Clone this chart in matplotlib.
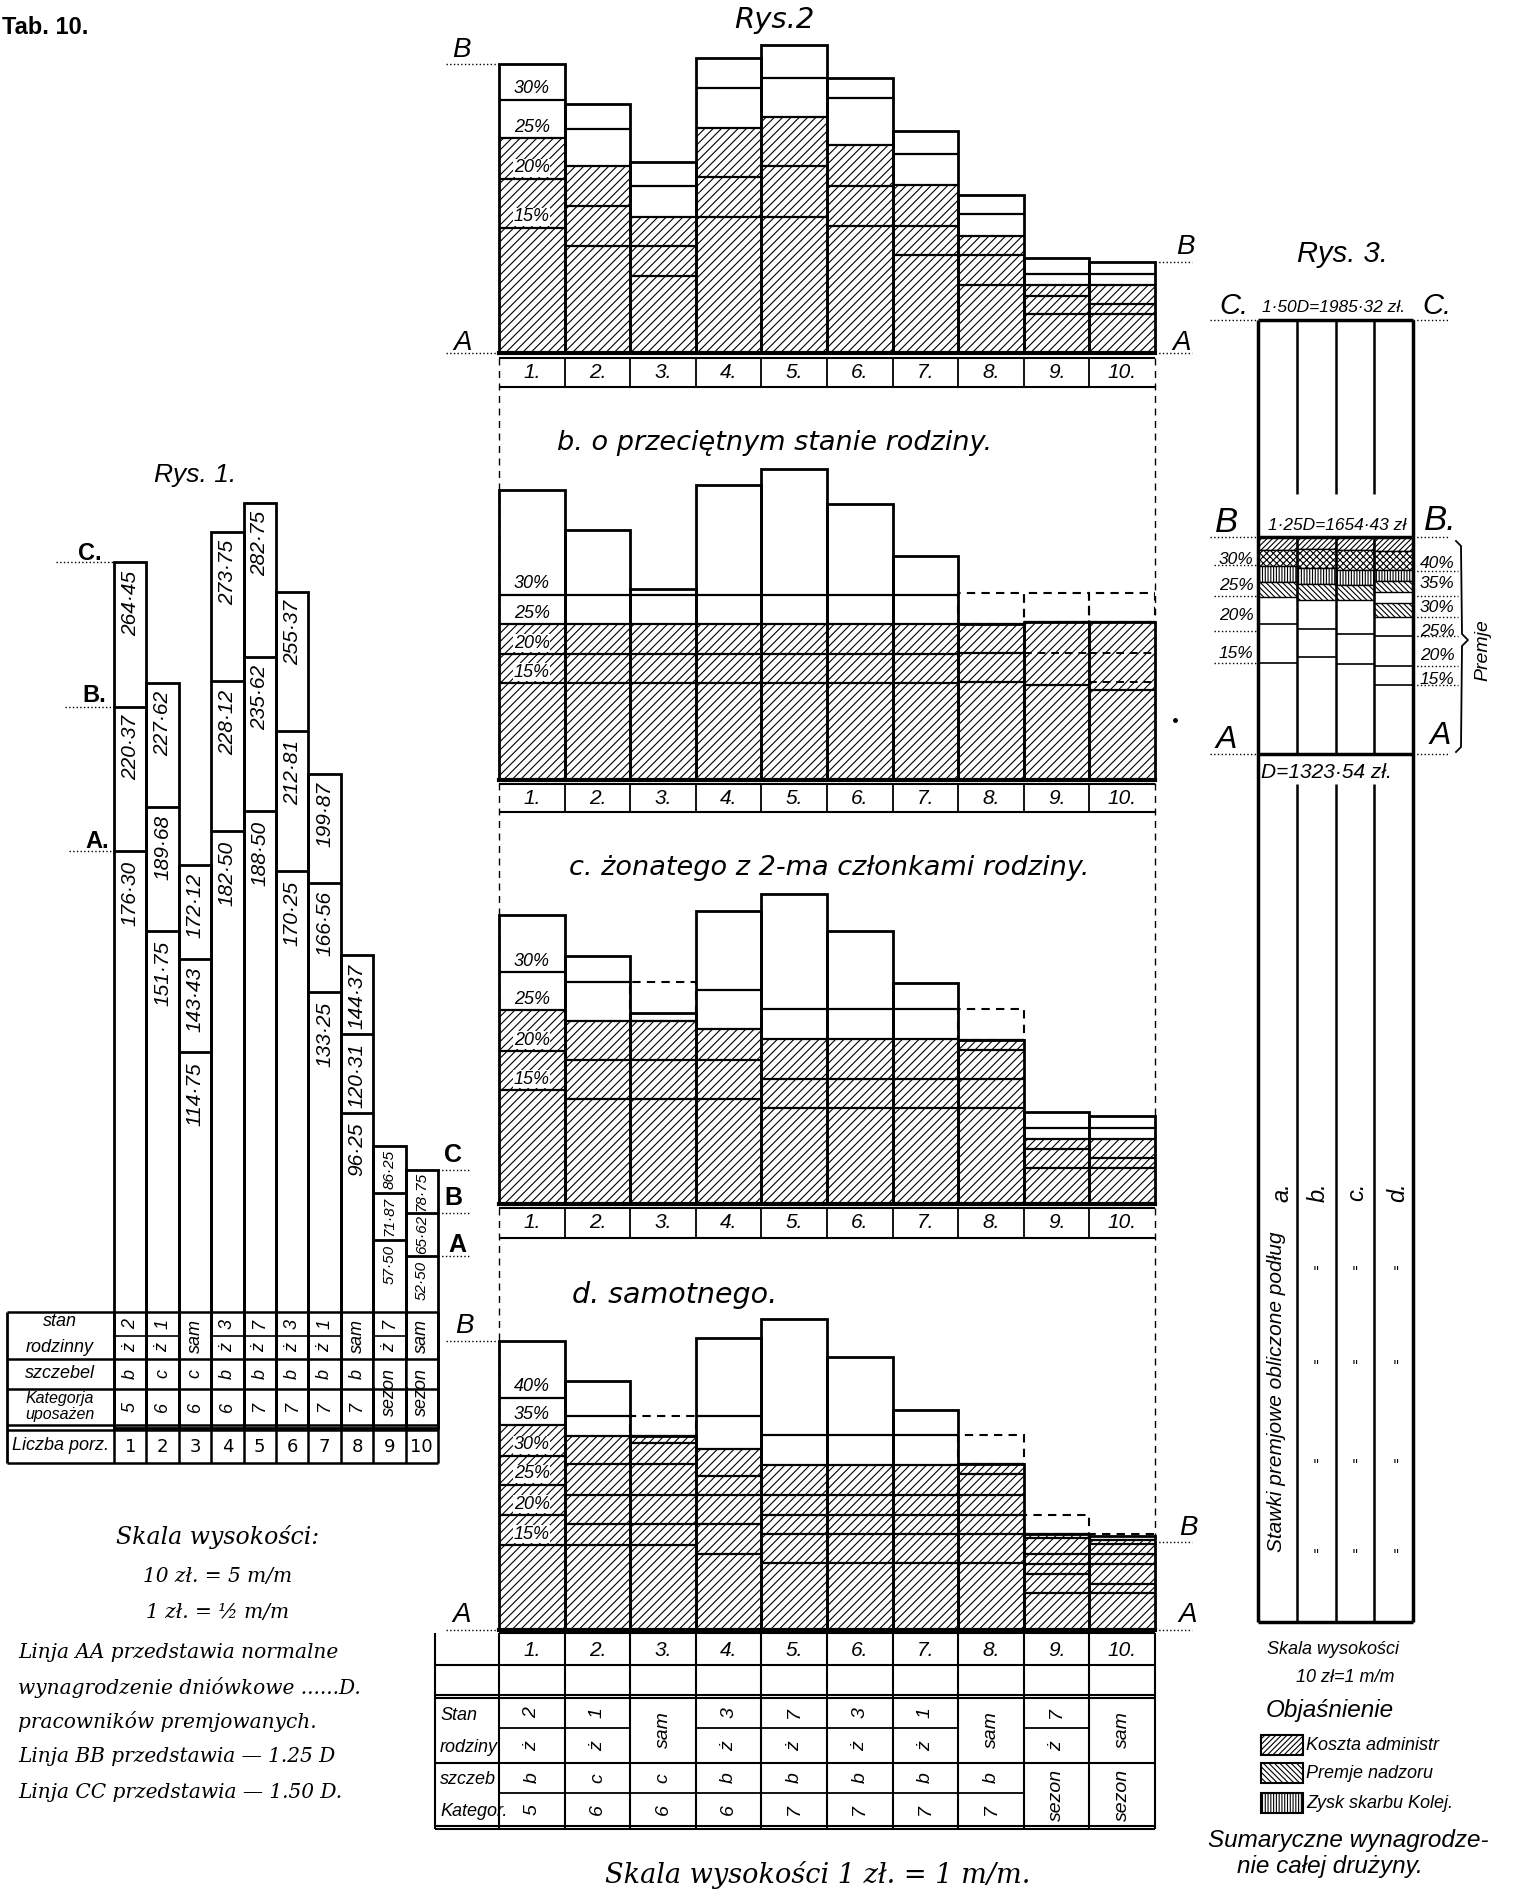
import numpy as np
import matplotlib
matplotlib.use("Agg")
import matplotlib.pyplot as plt
from matplotlib.patches import Rectangle

W, H = 1518, 1891
plt.rcParams["hatch.linewidth"] = 0.8
fig = plt.figure(figsize=(W / 100, H / 100), dpi=100)

HAND = dict(family=["Liberation Sans", "DejaVu Sans"], style="italic")
WIDE = dict(family=["DejaVu Sans"], style="italic")
SERIF = dict(family=["DejaVu Serif"], style="italic")
BOLD = dict(family=["Liberation Sans Narrow", "Liberation Sans", "DejaVu Sans"], weight="bold")

# ---------------- data ----------------
# Rys. 1: daily wage (zl) of each worker at line A (= D), B (1.25 D) and C (1.50 D)
numbers = ["1", "2", "3", "4", "5", "6", "7", "8", "9", "10"]
wage_A = [176.30, 151.75, 114.75, 182.50, 188.50, 170.25, 133.25, 96.25, 57.50, 52.50]
wage_B = [220.37, 189.68, 143.43, 228.12, 235.62, 212.81, 166.56, 120.31, 71.87, 65.62]
wage_C = [264.45, 227.62, 172.12, 273.75, 282.75, 255.37, 199.87, 144.37, 86.25, 78.75]
lbl_A = ["176·30", "151·75", "114·75", "182·50", "188·50", "170·25", "133·25", "96·25", "57·50", "52·50"]
lbl_B = ["220·37", "189·68", "143·43", "228·12", "235·62", "212·81", "166·56", "120·31", "71·87", "65·62"]
lbl_C = ["264·45", "227·62", "172·12", "273·75", "282·75", "255·37", "199·87", "144·37", "86·25", "78·75"]
stan_top = ["2", "1", "sam", "3", "7", "3", "1", "sam", "7", "sam"]
stan_bot = ["ż", "ż", "", "ż", "ż", "ż", "ż", "", "ż", ""]
szczebel = ["b", "c", "c", "b", "b", "b", "b", "b", "sezon", "sezon"]
kategoria = ["5", "6", "6", "6", "7", "7", "7", "7", "", ""]

# Rys. 2: premium above line A (zl)
tops_a = [43.8, 37.7, 28.9, 44.7, 46.7, 41.6, 33.7, 23.9, 14.4, 13.8]
hatch_a = [32.6, 28.3, 20.6, 34.1, 35.7, 31.5, 25.4, 17.8, 10.3, 10.3]
lines_a = [[38.4, 26.4, 19.0], [34.0, 22.2, 16.2], [25.3, 16.2, 11.7], [40.2, 26.7, 20.6],
           [41.7, 28.3, 20.6], [38.7, 25.3, 19.2], [30.1, 19.2, 14.9], [21.0, 14.9, 10.3],
           [11.9, 8.7, 5.9], [12.0, 7.5, 5.9]]
dash_a = [None] * 10
dline_a = [[]] * 10
pct_a = ["30%", "25%", "20%", "15%"]

tops_b = [43.9, 37.9, 29.0, 44.7, 47.1, 41.8, 34.0, 23.7, 24.0, 24.0]
hatch_b = [23.6, 23.6, 23.6, 23.6, 23.6, 23.6, 23.6, 23.7, 24.0, 24.0]
lines_b = [[28.1, 19.1, 14.7]] * 7 + [[19.2, 14.9], [14.4], [13.7]]
dash_b = [None] * 7 + [28.3, 28.3, 28.3]
dline_b = [[]] * 8 + [[19.2], [19.2, 14.9]]
pct_b = ["30%", "25%", "20%", "15%"]

tops_c = [43.8, 37.6, 28.9, 44.4, 47.0, 41.4, 33.5, 24.9, 14.0, 13.4]
hatch_c = [29.4, 27.7, 27.7, 26.5, 25.0, 25.0, 25.0, 24.9, 9.9, 9.9]
lines_c = [[35.1, 23.2, 17.3], [33.7, 21.8, 15.9], [21.8, 15.9], [32.4, 21.8, 15.9],
           [29.5, 18.9, 14.5], [29.5, 18.9, 14.5], [29.5, 18.9, 14.5], [23.3, 19.0, 14.6],
           [11.5, 8.4, 5.4], [11.5, 7.0, 5.4]]
dash_c = [None, None, 33.7, None, None, None, None, 29.5, None, None]
dline_c = [[]] * 10
pct_c = ["30%", "25%", "20%", "15%"]

tops_d = [43.8, 37.7, 29.4, 44.3, 47.1, 41.3, 33.4, 25.1, 14.6, 14.2]
hatch_d = [31.0, 29.4, 29.4, 27.4, 25.0, 25.0, 25.0, 25.1, 14.6, 13.6]
lines_d = [[35.2, 26.4, 22.0, 17.4, 12.9], [32.4, 25.1, 20.4, 16.1, 12.9],
           [28.4, 25.1, 20.4, 16.1, 12.9], [32.4, 23.4, 20.4, 16.1, 11.5],
           [29.5, 20.5, 17.5, 14.6, 10.1], [29.5, 20.5, 17.5, 14.6, 10.1],
           [29.5, 20.5, 17.5, 14.6, 10.1], [23.6, 20.5, 17.5, 14.6, 10.1],
           [13.9, 11.5, 10.0, 8.5, 5.6], [13.0, 11.5, 10.0, 7.0, 5.6]]
dash_d = [None, None, 32.4, None, None, None, None, 29.5, 17.4, 14.6]
dline_d = [[]] * 10
pct_d = ["40%", "35%", "30%", "25%", "20%", "15%"]

# Rys. 3: whole team (zl)
r3_D, r3_B, r3_C = 1323.54, 1654.43, 1985.32
r3_cols = ["a.", "b.", "c.", "d."]
r3_bands = [[1654.4, 1634, 1610, 1586, 1563],
            [1654.4, 1636, 1607, 1583, 1558],
            [1654.4, 1634, 1604, 1581, 1558],
            [1654.4, 1633, 1604, 1587, 1571]]
r3_hatch = ["//////", "xxxxx", "||||||", "\\\\\\\\\\\\"]
r3_extra = [None, None, None, (1532, 1554)]
r3_lines = [[1522, 1462], [1514, 1471], [1507, 1461], [1503, 1458, 1429]]


def px_axes(x0, y0, x1, y1, z=1):
    ax = fig.add_axes([x0 / W, 1 - y1 / H, (x1 - x0) / W, (y1 - y0) / H], zorder=z)
    ax.set_axis_off()
    return ax


back = px_axes(0, 0, W, H, z=0)
back.set_xlim(0, W)
back.set_ylim(H, 0)
ov = px_axes(0, 0, W, H, z=10)
ov.set_xlim(0, W)
ov.set_ylim(H, 0)

ov.text(2, 27, "Tab. 10.", fontsize=17, ha="left", va="center", **BOLD)

# ---------------- Rys. 1 ----------------
S1, Z1 = 3.273, 1428        # px per zl, pixel row of 0 zl
X0, BW = 114, 32.4
ax1 = px_axes(X0, Z1 - 300 * S1, X0 + 10 * BW, 1312)
ax1.set_xlim(-0.5, 9.5)
ax1.set_ylim((Z1 - 1312) / S1, 300)
x = np.arange(10)
ax1.bar(x, wage_C, width=1, fill=False, edgecolor="k", lw=2, clip_on=False)
ax1.hlines(wage_B, x - 0.5, x + 0.5, color="k", lw=2)
ax1.hlines(wage_A, x - 0.5, x + 0.5, color="k", lw=2)
for i in range(10):
    if i < 8:
        kw = dict(rotation=90, ha="center", va="top", fontsize=15, clip_on=False, **HAND)
        ax1.text(i, wage_C[i] - 2.5, lbl_C[i], **kw)
        ax1.text(i, wage_B[i] - 2.5, lbl_B[i], **kw)
        ax1.text(i, wage_A[i] - 3, lbl_A[i], **kw)
    else:
        kw = dict(rotation=90, ha="center", va="center", fontsize=11, clip_on=False, **HAND)
        ax1.text(i, (wage_B[i] + wage_C[i]) / 2, lbl_C[i], **kw)
        ax1.text(i, (wage_A[i] + wage_B[i]) / 2, lbl_B[i], **kw)
        ax1.text(i, wage_A[i] - 1.5, lbl_A[i], **dict(kw, va="top"))
# level marks C / B / A
for v, xl in zip([wage_C[0], wage_B[0], wage_A[0]], [-2.3, -2.0, -1.9]):
    ax1.plot([xl, -0.5], [v, v], ls=":", color="k", lw=1, clip_on=False)
for v in [wage_C[9], wage_B[9], wage_A[9]]:
    ax1.plot([9.5, 10.5], [v, v], ls=":", color="k", lw=1, clip_on=False)
for t, (px, py) in zip(["C.", "B.", "A."], [(90, 553), (94, 695), (97, 842)]):
    ov.text(px, py, t, fontsize=17, ha="center", va="center", **BOLD)
for t, (px, py) in zip(["C", "B", "A"], [(453, 1155), (453, 1198), (457, 1245)]):
    ov.text(px, py, t, fontsize=18, ha="center", va="center", **BOLD)
ov.text(195, 475, "Rys. 1.", fontsize=19, ha="center", va="center", **HAND)

# table under Rys. 1
edges1 = X0 + BW * np.arange(11)
L1 = 7
ov.hlines([1312, 1359, 1389, 1425, 1430, 1463], L1, edges1[-1], color="k", lw=1.8)
ov.vlines([L1], 1312, 1463, color="k", lw=2)
ov.vlines(edges1, 1312, 1463, color="k", lw=1.8)
for i in range(10):
    cx = (edges1[i] + edges1[i + 1]) / 2
    if stan_bot[i]:
        ov.hlines(1336, edges1[i], edges1[i + 1], color="k", lw=1.2)
        ov.text(cx, 1324, stan_top[i], rotation=90, ha="center", va="center", fontsize=13, **HAND)
        ov.text(cx, 1348, stan_bot[i], rotation=90, ha="center", va="center", fontsize=13, **HAND)
    else:
        ov.text(cx, 1336, stan_top[i], rotation=90, ha="center", va="center", fontsize=13, **HAND)
    if kategoria[i]:
        ov.text(cx, 1374, szczebel[i], rotation=90, ha="center", va="center", fontsize=13, **HAND)
        ov.text(cx, 1407, kategoria[i], rotation=90, ha="center", va="center", fontsize=13, **HAND)
    else:
        ov.text(cx, 1392, szczebel[i], rotation=90, ha="center", va="center", fontsize=13, **HAND)
    ov.text(cx, 1447, numbers[i], ha="center", va="center", fontsize=13, family="DejaVu Sans")
# cover the row line that "sezon" spans
for i in range(10):
    if not kategoria[i]:
        ov.add_patch(Rectangle((edges1[i] + 1, 1361), BW - 2, 26, fc="white", ec="none", zorder=0.5))
lab1 = [("stan", 1322, 13), ("rodzinny", 1347, 13), ("szczebel", 1374, 13), ("Kategorja", 1399, 11.5),
        ("uposażen", 1415, 11.5), ("Liczba porz.", 1446, 13)]
for t, yy, fs in lab1:
    ov.text(60, yy, t, ha="center", va="center", fontsize=fs, **HAND)

# text block bottom left
ov.text(218, 1537, "Skala wysokości:", ha="center", va="center", fontsize=17, **SERIF)
ov.text(218, 1577, "10 zł. = 5 m/m", ha="center", va="center", fontsize=14.5, **SERIF)
ov.text(218, 1612, "1 zł. = ½ m/m", ha="center", va="center", fontsize=14.5, **SERIF)
for t, yy in [("Linja AA przedstawia normalne", 1652),
              ("wynagrodzenie dniówkowe ......D.", 1688),
              ("pracowników premjowanych.", 1722),
              ("Linja BB przedstawia — 1.25 D", 1757),
              ("Linja CC przedstawia — 1.50 D.", 1792)]:
    ov.text(18, yy, t, ha="left", va="center", fontsize=14.5, **SERIF)

# ---------------- Rys. 2 ----------------
S2 = 6.6
E2 = 499 + 65.6 * np.arange(11)
ov.text(774, 20, "Rys.2", fontsize=21, ha="center", va="center", **WIDE)
back.vlines([E2[0], E2[-1]], 358, 1630, color="k", lw=1, ls=(0, (5, 4)))


def rys2_panel(base, tops, hatch, lines, dash, dlines, pcts):
    ax = px_axes(E2[0], base - 50 * S2, E2[-1], base, z=2)
    ax.set_xlim(-0.5, 9.5)
    ax.set_ylim(0, 50)
    ax.bar(x, hatch, width=1, facecolor="white", edgecolor="k", hatch="////", lw=0)
    ax.bar(x, tops, width=1, fill=False, edgecolor="k", lw=2, clip_on=False)
    ax.hlines(hatch, x - 0.5, x + 0.5, color="k", lw=1.6)
    for i in range(10):
        ax.hlines(lines[i], i - 0.5, i + 0.5, color="k", lw=1.6)
        if dlines[i]:
            ax.hlines(dlines[i], i - 0.5, i + 0.5, color="k", lw=1.4, ls=(0, (4, 3)))
        if dash[i] is not None:
            ax.bar(i, dash[i] - hatch[i], bottom=hatch[i], width=1, fill=False,
                   edgecolor="k", lw=1.5, ls=(0, (4, 3)))
    ax.axhline(0, color="k", lw=3, clip_on=False)
    levels = sorted([hatch[0]] + lines[0], reverse=True)[:len(pcts)]
    for p, lv in zip(pcts, levels):
        ax.text(0, lv + 0.35, p, ha="center", va="bottom", fontsize=13,
                bbox=dict(fc="white", ec="none", pad=0.3), **HAND)
    return ax


def number_row(y1, y2, yt):
    ov.hlines([y1, y2], E2[0], E2[-1], color="k", lw=1.5)
    ov.vlines(E2[1:-1], y1, y2, color="k", lw=1.3)
    for i in range(10):
        ov.text((E2[i] + E2[i + 1]) / 2, yt, numbers[i] + ".", ha="center", va="center", fontsize=15, **HAND)


rys2_panel(353, tops_a, hatch_a, lines_a, dash_a, dline_a, pct_a)
number_row(358, 387, 372)
rys2_panel(780, tops_b, hatch_b, lines_b, dash_b, dline_b, pct_b)
number_row(784, 812, 798)
rys2_panel(1204, tops_c, hatch_c, lines_c, dash_c, dline_c, pct_c)
number_row(1208, 1238, 1223)
rys2_panel(1630, tops_d, hatch_d, lines_d, dash_d, dline_d, pct_d)
number_row(1633, 1665, 1650)

ov.text(775, 443, "b. o przeciętnym stanie rodziny.", fontsize=19.5, ha="center", va="center", **WIDE)
ov.text(829, 868, "c. żonatego z 2-ma członkami rodziny.", fontsize=19.5, ha="center", va="center", **WIDE)
ov.text(675, 1295, "d. samotnego.", fontsize=20.5, ha="center", va="center", **WIDE)

# B / A marks of Rys. 2
for t, (px, py) in zip(["B", "A", "B", "A"], [(461, 50), (463, 343), (1185, 247), (1182, 343)]):
    ov.text(px, py, t, fontsize=20, ha="center", va="center", **HAND)
for t, (px, py) in zip(["B", "A", "B", "A"], [(464, 1326), (462, 1615), (1188, 1528), (1188, 1615)]):
    ov.text(px, py, t, fontsize=20, ha="center", va="center", **HAND)
for yy in [64, 353, 1341, 1630]:
    ov.hlines(yy, 446, E2[0], color="k", lw=1, ls=":")
for yy in [262, 353, 1542, 1630]:
    ov.hlines(yy, E2[-1], 1192, color="k", lw=1, ls=":")

# table under Rys. 2
LT = 435
ov.hlines([1695, 1698, 1763, 1826, 1829], LT, E2[-1], color="k", lw=1.5)
ov.vlines([LT], 1633, 1829, color="k", lw=1.5)
ov.vlines(E2, 1633, 1829, color="k", lw=1.5)
ov.hlines([1665], LT, E2[0], color="k", lw=1.5)
for i in range(10):
    cx = (E2[i] + E2[i + 1]) / 2
    if stan_bot[i]:
        ov.hlines(1728, E2[i], E2[i + 1], color="k", lw=1.3)
        ov.text(cx, 1713, stan_top[i], rotation=90, ha="center", va="center", fontsize=14, **HAND)
        ov.text(cx, 1746, stan_bot[i], rotation=90, ha="center", va="center", fontsize=14, **HAND)
    else:
        ov.text(cx, 1730, stan_top[i], rotation=90, ha="center", va="center", fontsize=14, **HAND)
    if kategoria[i]:
        ov.hlines(1793, E2[i], E2[i + 1], color="k", lw=1.3)
        ov.text(cx, 1778, szczebel[i], rotation=90, ha="center", va="center", fontsize=14, **HAND)
        ov.text(cx, 1810, kategoria[i], rotation=90, ha="center", va="center", fontsize=14, **HAND)
    else:
        ov.text(cx, 1795, szczebel[i], rotation=90, ha="center", va="center", fontsize=14, **HAND)
for t, yy in [("Stan", 1715), ("rodziny", 1747), ("szczeb", 1780), ("Kategor.", 1811)]:
    ov.text(LT + 5, yy, t, ha="left", va="center", fontsize=13, **HAND)
ov.text(818, 1875, "Skala wysokości 1 zł. = 1 m/m.", fontsize=19.5, ha="center", va="center", **SERIF)

# ---------------- Rys. 3 ----------------
ax3 = px_axes(1258, 320, 1413, 1622, z=2)
ax3.set_xlim(0, 4)
ax3.set_ylim(0, r3_C)
for j in range(4):
    ed = r3_bands[j]
    for k in range(4):
        ax3.bar(j + 0.5, ed[k] - ed[k + 1], bottom=ed[k + 1], width=1, facecolor="white",
                edgecolor="k", hatch=r3_hatch[k], lw=1)
    if r3_extra[j]:
        lo, hi = r3_extra[j]
        ax3.bar(j + 0.5, hi - lo, bottom=lo, width=1, facecolor="white", edgecolor="k",
                hatch=r3_hatch[3], lw=1)
    ax3.hlines(r3_lines[j], j, j + 1, color="k", lw=1.2)
ax3.vlines([1, 2, 3], r3_D, r3_B, color="k", lw=1.8)
ax3.vlines([1, 2, 3], r3_B + 65, r3_C, color="k", lw=1.8)
ax3.vlines([1, 2, 3], 0, r3_D - 46, color="k", lw=1.8)
ax3.vlines([0, 4], 0, r3_C, color="k", lw=2.5, clip_on=False)
ax3.hlines([0, r3_D, r3_B, r3_C], 0, 4, color="k", lw=2.5, clip_on=False)

ov.text(1342, 254, "Rys. 3.", fontsize=21, ha="center", va="center", **HAND)
ov.text(1234, 306, "C.", fontsize=21, ha="center", va="center", **HAND)
ov.text(1437, 306, "C.", fontsize=21, ha="center", va="center", **HAND)
ov.text(1334, 307, "1·50D=1985·32 zł.", fontsize=12.5, ha="center", va="center", **HAND)
ov.text(1226, 522, "B", fontsize=25, ha="center", va="center", **HAND)
ov.text(1440, 520, "B.", fontsize=25, ha="center", va="center", **HAND)
ov.text(1337, 525, "1·25D=1654·43 zł", fontsize=12.5, ha="center", va="center", **HAND)
ov.text(1226, 740, "A", fontsize=23, ha="center", va="center", **HAND)
ov.text(1440, 736, "A", fontsize=23, ha="center", va="center", **HAND)
ov.text(1326, 772, "D=1323·54 zł.", fontsize=15, ha="center", va="center", **HAND)
for yy in [320, 537, 754]:
    ov.hlines(yy, 1210, 1258, color="k", lw=1, ls=":")
    ov.hlines(yy, 1413, 1448, color="k", lw=1, ls=":")
for t, yy, yl in zip(["30%", "25%", "20%", "15%"], [559, 586, 616, 654], [565, 596, 631, 663]):
    ov.text(1236, yy, t, fontsize=12.5, ha="center", va="center", **HAND)
    ov.hlines(yl, 1214, 1258, color="k", lw=1, ls=":")
for t, yy, yl in zip(["40%", "35%", "30%", "25%", "20%", "15%"], [563, 584, 607, 631, 656, 679],
                     [571, 596, 617, 636, 666, 685]):
    ov.text(1437, yy, t, fontsize=12.5, ha="center", va="center", **HAND)
    ov.hlines(yl, 1413, 1458, color="k", lw=1, ls=":")
# brace and "Premje"
ov.plot([1456, 1461, 1462, 1468, 1462, 1461, 1456], [541, 546, 634, 640, 646, 747, 752], color="k", lw=1.3)
ov.text(1483, 650, "Premje", rotation=90, fontsize=14, ha="center", va="center", **HAND)

ov.text(1276, 1392, "Stawki premjowe obliczone podług", rotation=90, fontsize=15,
        ha="center", va="center", **HAND)
for j, cx in enumerate([1282, 1318, 1357, 1398]):
    ov.text(cx, 1192, r3_cols[j], rotation=90, fontsize=17, ha="center", va="center", **HAND)
    if j:
        for yy in [1272, 1366, 1465, 1555]:
            ov.text(cx - 2, yy, '"', fontsize=10, ha="center", va="center", family="DejaVu Sans")

# legend
ov.text(1333, 1650, "Skala wysokości", fontsize=13, ha="center", va="center", **HAND)
ov.text(1345, 1678, "10 zł=1 m/m", fontsize=13, ha="center", va="center", **HAND)
ov.text(1330, 1710, "Objaśnienie", fontsize=17.5, ha="center", va="center", **HAND)
for k, (t, yy) in enumerate([("Koszta administr", 1745), ("Premje nadzoru", 1773), ("Zysk skarbu Kolej.", 1803)]):
    hatches = ["//////", "\\\\\\\\\\\\", "||||||"]
    ov.add_patch(Rectangle((1261, yy - 10), 42, 20, fc="white", ec="k", lw=1.5, hatch=hatches[k]))
    ov.text(1306, yy, t, fontsize=13, ha="left", va="center", **HAND)
ov.text(1348, 1840, "Sumaryczne wynagrodze-", fontsize=17.5, ha="center", va="center", **HAND)
ov.text(1330, 1866, "nie całej drużyny.", fontsize=17.5, ha="center", va="center", **HAND)
ov.plot([1175], [720], "k.", ms=5)

fig.savefig("out.png", dpi=100, facecolor="white")
